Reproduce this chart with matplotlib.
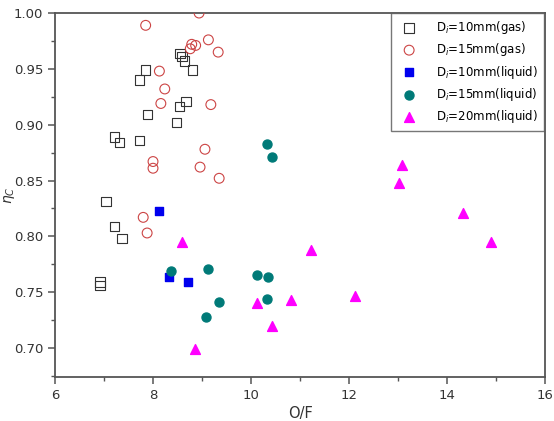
import matplotlib
matplotlib.use("Agg")
import matplotlib.pyplot as plt
from matplotlib.ticker import MultipleLocator

# Di=10mm (gas)
gas10_x = [7.22, 7.31, 7.73, 7.89, 7.72, 7.84, 8.55, 8.59, 8.64, 8.81, 8.67, 8.54,
           8.48, 7.04, 7.21, 7.37, 6.92, 6.92]
gas10_y = [0.889, 0.884, 0.886, 0.909, 0.940, 0.949, 0.964, 0.961, 0.957, 0.949, 0.921,
           0.916, 0.902, 0.831, 0.809, 0.798, 0.759, 0.756]

# Di=15mm (gas)
gas15_x = [7.85, 8.94, 8.13, 8.24, 8.16, 8.79, 8.87, 8.76, 9.13, 9.33, 9.18, 9.06,
           8.96, 8.00, 8.00, 9.35, 7.80, 7.88]
gas15_y = [0.989, 1.000, 0.948, 0.932, 0.919, 0.972, 0.971, 0.968, 0.976, 0.965, 0.918,
           0.878, 0.862, 0.867, 0.861, 0.852, 0.817, 0.803]

# Di=10mm (liquid)
liq10_x = [8.13, 8.33, 8.72]
liq10_y = [0.823, 0.764, 0.759]

# Di=15mm (liquid)
liq15_x = [10.32, 10.42, 8.37, 9.13, 9.35, 9.08, 10.12, 10.34, 10.33]
liq15_y = [0.883, 0.871, 0.769, 0.771, 0.741, 0.728, 0.765, 0.764, 0.744]

# Di=20mm (liquid)
liq20_x = [8.60, 8.86, 10.12, 10.42, 13.09, 13.01, 14.33, 14.90, 11.22, 10.82, 12.12]
liq20_y = [0.795, 0.699, 0.740, 0.720, 0.864, 0.848, 0.821, 0.795, 0.788, 0.743, 0.747]

labels = ["D$_i$=10mm(gas)", "D$_i$=15mm(gas)", "D$_i$=10mm(liquid)",
          "D$_i$=15mm(liquid)", "D$_i$=20mm(liquid)"]

fig = plt.figure(figsize=(5.54, 4.21), dpi=100)
ax = fig.add_axes([0.0993, 0.1045, 0.8845, 0.8645])

ax.scatter(gas10_x, gas10_y, marker="s", s=45, facecolors="none", edgecolors="#333333",
           linewidths=0.8, label=labels[0], zorder=3)
ax.scatter(gas15_x, gas15_y, marker="o", s=50, facecolors="none", edgecolors="#cc4444",
           linewidths=0.8, label=labels[1], zorder=3)
ax.scatter(liq10_x, liq10_y, marker="s", s=30, color="#0000ee", label=labels[2], zorder=3)
ax.scatter(liq15_x, liq15_y, marker="o", s=42, color="#007a78", label=labels[3], zorder=3)
ax.scatter(liq20_x, liq20_y, marker="^", s=50, color="#ff00ff", label=labels[4], zorder=3)

ax.set_xlim(6, 16)
ax.set_ylim(0.674, 1.0)
ax.xaxis.set_major_locator(MultipleLocator(2))
ax.xaxis.set_minor_locator(MultipleLocator(1))
ax.yaxis.set_major_locator(MultipleLocator(0.05))
ax.yaxis.set_minor_locator(MultipleLocator(0.025))
ax.yaxis.set_major_formatter(matplotlib.ticker.FormatStrFormatter("%.2f"))

for s in ax.spines.values():
    s.set_color("#555555")
    s.set_linewidth(1.3)
ax.tick_params(which="major", direction="out", length=5, width=1.1, color="#555555",
               labelsize=9.5, labelcolor="#333333")
ax.tick_params(which="minor", direction="out", length=3, width=1.0, color="#555555")
ax.tick_params(top=False, right=False)

ax.set_xlabel("O/F", fontsize=10.5, color="#333333", labelpad=3)
ax.set_ylabel(r"$\eta_C$", fontsize=10, color="#333333", labelpad=0)
ax.yaxis.set_label_coords(-0.078, 0.5)

leg = ax.legend(loc="upper right", fontsize=8.5, frameon=True, fancybox=False,
                edgecolor="#555555", handletextpad=1.3, borderpad=0.5,
                labelspacing=0.45, borderaxespad=0.0, bbox_to_anchor=(0.998, 1.0))
leg.get_frame().set_linewidth(1.0)

fig.savefig("out.png", dpi=100)
